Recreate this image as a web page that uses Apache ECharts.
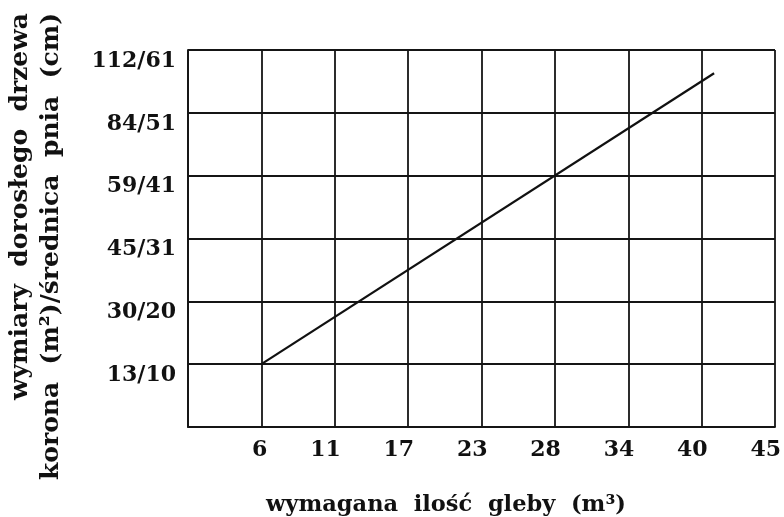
<!DOCTYPE html>
<html>
<head>
<meta charset="utf-8">
<script src="https://cdn.jsdelivr.net/npm/echarts@6/dist/echarts.min.js"></script>
<style>
html,body{margin:0;padding:0;background:#fff;}
#chart{width:784px;height:517px;}
</style>
</head>
<body>
<div id="chart"></div>
<script>
// Tick labels (axes are ordinal: labels sit at evenly spaced positions)
var soilLabels = ['', '6', '11', '17', '23', '28', '34', '40', '45'];
var sizeLabels = ['', '13/10', '30/20', '45/31', '59/41', '84/51', '112/61'];
// Line series, in tick-position units (start at 6 / 13/10, end just past 40)
var soilPos = [1, 7.17];
var sizePos = [1, 5.63];

var xTitle = 'wymagana  ilość  gleby  (m³)';
var yTitle = 'wymiary  dorosłego  drzewa\nkorona  (m²)/średnica  pnia  (cm)';

var FONT = '"DejaVu Serif", serif';
var chart = echarts.init(document.getElementById('chart'), null, {renderer: 'canvas'});
var lineData = soilPos.map(function (x, i) { return [x, sizePos[i]]; });

chart.setOption({
  animation: false,
  backgroundColor: '#ffffff',
  grid: {left: 188, right: 8, top: 50, bottom: 90, containLabel: false},
  xAxis: {
    type: 'value', min: 0, max: soilLabels.length - 1, interval: 1,
    axisLine: {show: true, lineStyle: {color: '#151515', width: 1.8}},
    axisTick: {show: false},
    splitLine: {show: true, lineStyle: {color: '#151515', width: 1.8}},
    axisLabel: {
      show: true, margin: 12, color: '#111', fontFamily: FONT, fontWeight: 'bold', fontSize: 22,
      align: 'right', padding: [0, -6, 0, 0],
      showMaxLabel: true, showMinLabel: true,
      formatter: function (v) { return soilLabels[Math.round(v)] || ''; }
    }
  },
  yAxis: {
    type: 'value', min: 0, max: sizeLabels.length - 1, interval: 1,
    axisLine: {show: true, lineStyle: {color: '#151515', width: 1.8}},
    axisTick: {show: false},
    splitLine: {show: true, lineStyle: {color: '#151515', width: 1.8}},
    axisLabel: {
      show: true, margin: 12, color: '#111', fontFamily: FONT, fontWeight: 'bold', fontSize: 22,
      verticalAlign: 'top', padding: [0, 0, 0, 0], showMaxLabel: true,
      formatter: function (v) { return sizeLabels[Math.round(v)] || ''; }
    }
  },
  graphic: [
    {
      type: 'text', x: 266, y: 505,
      style: {text: xTitle, font: 'bold 22.5px ' + FONT, fill: '#111', align: 'left', verticalAlign: 'middle'}
    },
    {
      type: 'text', x: 5, y: 13, rotation: Math.PI / 2,
      style: {text: yTitle, font: 'bold 25px ' + FONT, fill: '#111', align: 'right', verticalAlign: 'top', lineHeight: 31}
    }
  ],
  series: [{
    type: 'line', data: lineData, symbol: 'none', silent: true,
    lineStyle: {color: '#111', width: 2.2}
  }]
});
</script>
</body>
</html>
